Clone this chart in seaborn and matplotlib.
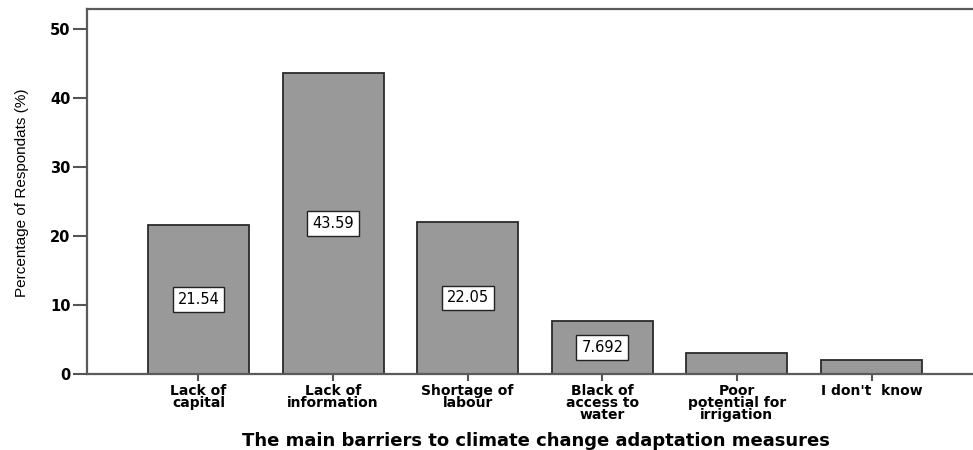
import matplotlib
matplotlib.use("Agg")
import matplotlib.pyplot as plt
from matplotlib import font_manager
from matplotlib.font_manager import FontProperties
import seaborn as sns
import pandas as pd

categories = [
    "Lack of\ncapital",
    "Lack of\ninformation",
    "Shortage of\nlabour",
    "Black of\naccess to\nwater",
    "Poor\npotential for\nirrigation",
    "I don't  know",
]
percentages = [21.54, 43.59, 22.05, 7.692, 3.077, 2.051]
value_labels = ["21.54", "43.59", "22.05", "7.692", None, None]
y_ticks = [0, 10, 20, 30, 40, 50]

sns.set_theme(style="white")
plt.rcParams["font.family"] = ["DejaVu Sans"]
plt.rcParams["text.color"] = "black"
plt.rcParams["axes.labelcolor"] = "black"


def font_file(family, bold):
    """Pick a normal-width face of the given family from the installed fonts."""
    for f in font_manager.fontManager.ttflist:
        fname = f.fname.lower()
        if f.name != family or "condensed" in fname or "narrow" in fname:
            continue
        if "oblique" in fname or "italic" in fname:
            continue
        is_bold = f.weight in ("bold", 700) or (isinstance(f.weight, int) and f.weight >= 700)
        if is_bold == bold:
            return f.fname
    return None


def props(family, bold, size):
    path = font_file(family, bold)
    if path:
        return FontProperties(fname=path, size=size)
    return FontProperties(family=family, weight="bold" if bold else "normal", size=size)


installed = {f.name for f in font_manager.fontManager.ttflist}
if "Liberation Sans Narrow" in installed:
    ylab_font = FontProperties(family="Liberation Sans Narrow", size=12.5)
else:
    ylab_font = props("Liberation Sans", False, 11)

tick_font = props("DejaVu Sans", True, 10)
ytick_font = props("DejaVu Sans", True, 10.5)
title_font = props("DejaVu Sans", True, 13)
value_font = props("DejaVu Sans", False, 10.5)

df = pd.DataFrame({"barrier": categories, "pct": percentages})

fig = plt.figure(figsize=(9.73, 4.5), dpi=100)
ax = fig.add_axes([87 / 973, 1 - 374 / 450, 1 - 87 / 973, (374 - 9) / 450])

sns.barplot(data=df, x="barrier", y="pct", order=categories, color="#999999",
            saturation=1, edgecolor="#2b2b2b", linewidth=1.3, width=0.75, ax=ax)

ax.set_xlim(-0.828, 5.754)
ax.set_ylim(0, 52.9)
ax.set_yticks(y_ticks)
ax.set_yticklabels([str(t) for t in y_ticks], fontproperties=ytick_font)

ax.set_xticks(range(len(categories)))
ax.set_xticklabels(categories, fontproperties=tick_font, linespacing=0.82)

ax.tick_params(axis="y", direction="out", length=10, width=1.5, color="#555555",
               labelcolor="black", pad=2, left=True)
ax.tick_params(axis="x", direction="out", length=5, width=1.5, color="#555555",
               labelcolor="black", pad=2, bottom=True)

for side in ["left", "bottom", "top"]:
    ax.spines[side].set_visible(True)
    ax.spines[side].set_color("#5a5a5a")
    ax.spines[side].set_linewidth(1.6)
ax.spines["right"].set_visible(False)

ax.set_ylabel("Percentage of Respondats (%)", fontproperties=ylab_font)
ax.yaxis.set_label_coords(-0.073, 0.497)
ax.yaxis.label.set_va("center")

ax.set_xlabel("The main barriers to climate change adaptation measures",
              fontproperties=title_font)
ax.xaxis.set_label_coords(0.507, -0.1836)
ax.xaxis.label.set_va("center")

for i, (v, lab) in enumerate(zip(percentages, value_labels)):
    if lab is None:
        continue
    ax.text(i, v / 2, lab, ha="center", va="center", fontproperties=value_font,
            color="black",
            bbox=dict(boxstyle="square,pad=0.33", facecolor="white", edgecolor="#222222",
                      linewidth=1.0))

ax.grid(False)
fig.savefig("out.png", dpi=100)
